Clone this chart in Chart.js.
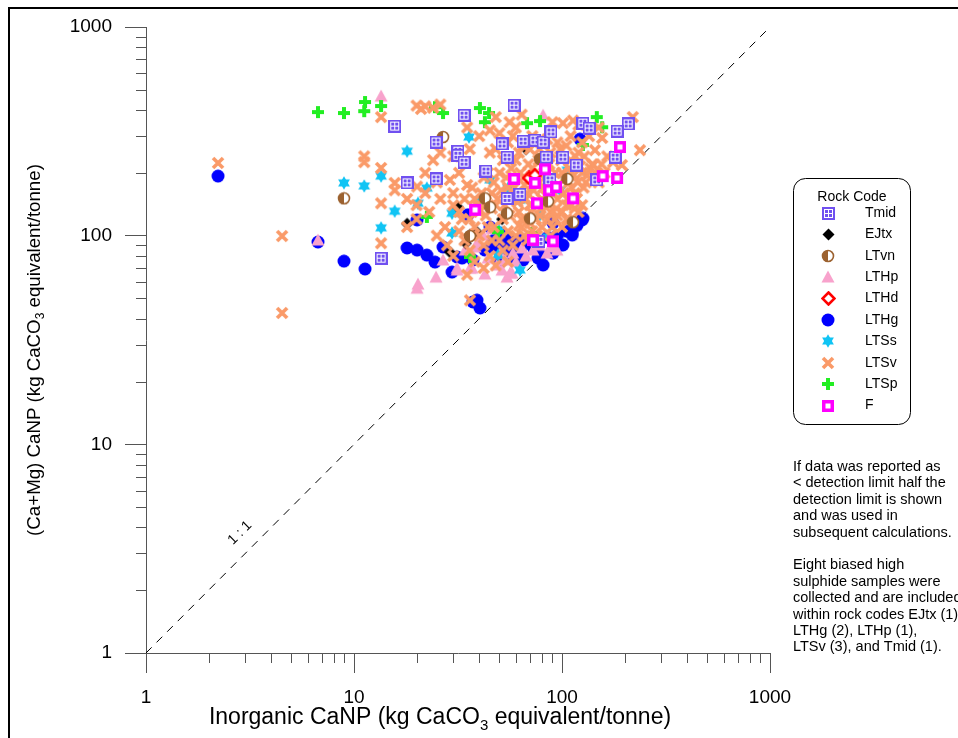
<!DOCTYPE html>
<html>
<head>
<meta charset="utf-8">
<script src="https://cdn.jsdelivr.net/npm/chart.js@4.4.1/dist/chart.umd.min.js"></script>
<style>
  body { margin: 0; background: #fff; }
  canvas { display: block; }
</style>
</head>
<body>
<canvas id="chart" width="958" height="738"></canvas>
<script>
// axis ticks (log-log, 1 to 1000)
const xTicks = [1, 10, 100, 1000];
const yTicks = [1, 10, 100, 1000];
const oneToOne = [[1, 1], [1000, 1000]];

// [Inorganic CaNP, (Ca+Mg) CaNP] pairs
const tmid = [[15.7,335],[13.5,78],[18,179],[24.8,187],[24.8,281],[31.6,254],[31.6,243],[33.8,225],[33.8,378],[58.8,422],[43.1,204],[51.5,275],[54.4,238],[65,284],[74.1,287],[81.1,281],[88.5,314],[83.8,238],[101,238],[117,218],[126,346],[135,328],[208,343],[180,238],[147,185],[87.5,185],[62.8,158],[54.4,151],[77.5,94],[184,317]];
const ejtx = [[18,114],[67.1,260],[31.6,137],[36.1,101],[39,104],[28.9,83.4],[51.5,120],[34.5,92]];
const ltvn = [[26.8,297],[8.95,151],[78.4,233],[106,187],[42.6,151],[45.1,137],[54.4,128],[70.2,121],[85.7,146],[113,116],[36.1,99.6]];
const lthp = [[13.5,467],[81.1,378],[6.71,95.3],[20.3,58.6],[20.1,56],[24.8,63.3],[26.8,76.4],[31.3,69.9],[36.1,69.9],[42.6,65.5],[53.2,76.4],[58.1,82.5],[64.2,87.3],[72.5,85.3],[89.5,88.2],[94.6,85.3],[48.7,72.3],[57.5,66.2],[41.7,100.6],[46.1,108],[34.2,85.3],[38.2,88.2],[50.3,82.5],[54.4,63.3],[39.5,93.2],[51.5,68.4],[56.2,66.2],[84.7,82.5],[36.9,69.9],[31.3,68.4],
  [44,78],[60,75],[67,80],[78,90]];
const lthd = [[69.4,189],[74.1,195]];
const lthg = [[2.22,193],[6.71,93.2],[8.95,75.5],[11.3,69.2],[20.1,119],[18,87.3],[20.1,85.3],[22.4,80.7],[24.5,74.7],[26.8,88.2],[29.6,66.9],[35.3,126],[37.3,48.1],[40.3,45],[45.1,110],[50.3,103],[56.2,97.3],[60.8,90.2],[67.9,95.3],[72.5,88.2],[81.1,72.3],[90.5,82.5],[101,90.2],[112,103],[125,119],[122,290],[90.5,115],[54.4,80.7],[58.1,79],[31.3,79],[37.3,76.4],[42.6,85.3],[50.3,74.7],[65,76.4],[76.7,78.1],[39,49.1],[97.8,90.2],[78.4,80.7],[33.1,78.1],[62.8,95.3],[126,121],[112,100.6],
  [47,95],[52,92],[57,88],[63,85],[70,92],[85,98],[95,100],[105,105],[118,112],[48,88]];
const ltss = [[18,254],[35.7,297],[8.95,179],[11.2,173],[13.5,193],[15.7,131],[13.5,109],[20.3,143],[22.4,169],[29.6,128],[29.6,103],[49.8,106],[49.2,80.7],[62.8,68.4],[45.1,185],[55,169],[72.5,185],[85.7,98.4],[106,206],[62.8,148],[78.4,126],[40.3,148],[97.8,165]];
const ltsv = [[2.22,223],[4.51,99.6],[4.51,42.6],[11.2,225],[11.2,240],[13.5,370],[13.5,211],[13.5,143],[13.5,92],[15.7,179],[15.7,165],[18,150],[20.1,172],[22,200],[25,180],[27.4,110],[28.9,185],[30,160],[32,200],[36.1,49],
  [20,420],[21,405],[22,417],[24,410],[26,425],[35,330],[40,300],[45,320],[50,310],[60,330],[72,300],[90,350],[101,346],[113,356],[120,340],[135,300],[150,330],[219,370],[156,294],
  [30,140],[33,120],[35,175],[38,150],[40,130],[42,190],[44,110],[46,160],[48,140],[50,200],[52,120],[55,170],[58,150],[60,230],[62,130],[65,190],[68,160],[70,140],[72,210],[75,120],[78,180],[80,150],[83,240],[85,200],[88,130],[90,170],[95,150],[98,260],[100,200],[105,140],[108,180],[110,230],[115,160],[120,250],[125,200],[130,180],[140,220],[144,257],[141,218],[176,225],[194,218],[237,257],[160,200],[150,180],
  [25,100],[28,90],[30,80],[32,105],[34,95],[36,85],[38,75],[40,100],[42,90],[45,80],[47,110],[50,95],[52,85],[55,105],[58,90],[60,100],[64,110],[68,95],[72,105],[76,100],[80,110],[85,120],[90,110],[95,125],[100,130],[110,140],[118,150],[42,70],[48,72],[55,75],[35,65],
  [24,230],[26,250],[30,240],[22,160],[20,140],[20,120],[23,130],[18,110],[26,150],[36,260],[45,250],[55,280],[65,270],[75,280],[85,290],[110,300],[56,350],[64,380],[48,370],
  [32,130],[34,150],[36,120],[37,170],[39,140],[41,160],[43,125],[44,200],[46,135],[47,180],[49,150],[51,165],[53,140],[54,190],[56,125],[57,210],[59,170],[61,145],[63,200],[64,120],[66,175],[67,150],[69,220],[71,130],[73,165],[74,190],[76,145],[77,230],[79,135],[81,170],[82,200],[84,155],[86,140],[87,220],[89,185],[91,160],[93,200],[94,135],[96,175],[99,230],
  [102,160],[104,190],[106,150],[108,210],[111,170],[114,195],[116,240],[119,180],[122,215],[127,170],[132,195],[137,210],[128,240],[145,200],[155,220],[165,240],[100,110],[93,120],[105,120],[115,135],[125,140],[120,130],[70,115],[62,112],[78,125],[88,100],[66,100],[46,95],[38,110],[43,145],
  [52,230],[48,260],[62,250],[78,260],[95,280],[105,270],[125,280],[58,300],[70,260],[88,250]];
const ltsp = [[6.71,391],[8.95,387],[11.3,437],[11.2,395],[13.5,418],[24.5,413],[26.8,387],[40.3,409],[44.6,387],[42.6,350],[67.9,346],[78.4,354],[147,370],[156,331],[22.4,123],[36.1,79],[126,272],[49.2,104],[71.7,103]];
const fCode = [[38.2,133],[58.8,187],[74.1,179],[82.8,208],[86.6,165],[93.6,171],[75.8,143],[113,151],[157,193],[190,266],[184,189],[72.5,95.3],[90.5,94]];

const notes = [
  "If data was reported as",
  "< detection limit half the",
  "detection limit is shown",
  "and was used in",
  "subsequent calculations.",
  "",
  "Eight biased high",
  "sulphide samples were",
  "collected and are included",
  "within rock codes EJtx (1)",
  "LTHg (2), LTHp (1),",
  "LTSv (3), and Tmid (1)."
];

const FONT = '"Liberation Sans", Arial, sans-serif';
const AXIS = "#555";

// marker images
function mark(size, draw) {
    const c = document.createElement("canvas");
    c.width = c.height = size;
    draw(c.getContext("2d"), size);
    return c;
}

const purple = "#7050F0";
const tmidMark = mark(13, (g) => {
    g.fillStyle = purple; g.fillRect(0, 0, 13, 13);
    g.fillStyle = "#fff"; g.fillRect(2, 2, 9, 9);
    g.fillStyle = purple;
    [[3,3],[7,3],[3,7],[7,7]].forEach(([a, b]) => g.fillRect(a, b, 3, 3));
});
const ejtxMark = mark(13, (g) => {
    g.fillStyle = "#000";
    g.beginPath(); g.moveTo(6.5, 0.5); g.lineTo(12.5, 6.5); g.lineTo(6.5, 12.5); g.lineTo(0.5, 6.5); g.closePath(); g.fill();
});
const ltvnMark = mark(14, (g) => {
    const brown = "#9C6230";
    g.fillStyle = "#fff"; g.beginPath(); g.arc(7, 7, 5.5, 0, Math.PI * 2); g.fill();
    g.fillStyle = brown; g.beginPath(); g.arc(7, 7, 5.5, Math.PI / 2, Math.PI * 1.5); g.closePath(); g.fill();
    g.strokeStyle = brown; g.lineWidth = 1.6; g.beginPath(); g.arc(7, 7, 5.5, 0, Math.PI * 2); g.stroke();
});
const lthpMark = mark(14, (g) => {
    g.fillStyle = "#F8A2CC";
    g.beginPath(); g.moveTo(7, 0.5); g.lineTo(13.5, 12.5); g.lineTo(0.5, 12.5); g.closePath(); g.fill();
});
const lthdMark = mark(15, (g) => {
    g.fillStyle = "#fff"; g.strokeStyle = "#FF0000"; g.lineWidth = 2.6;
    g.beginPath(); g.moveTo(7.5, 1.5); g.lineTo(13.5, 7.5); g.lineTo(7.5, 13.5); g.lineTo(1.5, 7.5); g.closePath(); g.fill(); g.stroke();
});
const lthgMark = mark(14, (g) => {
    g.fillStyle = "#0000FF"; g.beginPath(); g.arc(7, 7, 6.5, 0, Math.PI * 2); g.fill();
});
const ltssMark = mark(14, (g) => {
    g.fillStyle = "#10C4F4";
    [-90, 90].forEach((start) => {
        g.beginPath();
        for (let k = 0; k < 3; k++) {
            const a = (start + k * 120) * Math.PI / 180;
            g.lineTo(7 + 6.8 * Math.cos(a), 7 + 6.8 * Math.sin(a));
        }
        g.closePath(); g.fill();
    });
});
const ltsvMark = mark(14, (g) => {
    g.strokeStyle = "#FA9A68"; g.lineWidth = 3.6;
    g.beginPath(); g.moveTo(2, 2); g.lineTo(12, 12); g.moveTo(12, 2); g.lineTo(2, 12); g.stroke();
});
const ltspMark = mark(14, (g) => {
    g.fillStyle = "#22EE22";
    g.fillRect(5, 1, 4, 12); g.fillRect(1, 5, 12, 4);
});
const fMark = mark(14, (g) => {
    g.fillStyle = "#FF00FF"; g.fillRect(1, 1, 12, 12);
    g.fillStyle = "#fff"; g.fillRect(4.5, 4.5, 5, 5);
});

// legend order; "order" = drawing depth (lowest on top)
const series = [
    { label: "Tmid", data: tmid, style: tmidMark, order: 1 },
    { label: "EJtx", data: ejtx, style: ejtxMark, order: 5 },
    { label: "LTvn", data: ltvn, style: ltvnMark, order: 3 },
    { label: "LTHp", data: lthp, style: lthpMark, order: 8 },
    { label: "LTHd", data: lthd, style: lthdMark, order: 2 },
    { label: "LTHg", data: lthg, style: lthgMark, order: 9 },
    { label: "LTSs", data: ltss, style: ltssMark, order: 7 },
    { label: "LTSv", data: ltsv, style: ltsvMark, order: 4 },
    { label: "LTSp", data: ltsp, style: ltspMark, order: 6 },
    { label: "F", data: fCode, style: fMark, order: 0 }
];

const datasets = series.map((s) => ({
    label: s.label,
    data: s.data.map(([x, y]) => ({ x, y })),
    pointStyle: s.style,
    order: s.order
}));
datasets.push({
    label: "1:1",
    data: oneToOne.map(([x, y]) => ({ x, y })),
    showLine: true,
    borderColor: "#000",
    borderWidth: 1,
    borderDash: [8, 7],
    pointRadius: 0,
    order: 20
});

function drawTitle(ctx, head, x, y, size, rot) {
    const tail = " equivalent/tonne)";
    ctx.save();
    ctx.translate(x, y);
    ctx.rotate(rot);
    ctx.fillStyle = "#000";
    ctx.textBaseline = "middle";
    ctx.textAlign = "left";
    ctx.font = size + "px " + FONT;
    const wa = ctx.measureText(head).width;
    const wc = ctx.measureText(tail).width;
    ctx.font = Math.round(size * 0.65) + "px " + FONT;
    const wb = ctx.measureText("3").width;
    let s = -(wa + wb + wc) / 2;
    ctx.font = size + "px " + FONT;
    ctx.fillText(head, s, 0);
    ctx.font = Math.round(size * 0.65) + "px " + FONT;
    ctx.fillText("3", s + wa, size * 0.32);
    ctx.font = size + "px " + FONT;
    ctx.fillText(tail, s + wa + wb, 0);
    ctx.restore();
}

const decor = {
    id: "decor",
    afterDraw(chart) {
        const ctx = chart.ctx;
        const xs = chart.scales.x, ys = chart.scales.y;
        const area = chart.chartArea;
        ctx.save();

        // minor ticks
        ctx.strokeStyle = AXIS;
        ctx.lineWidth = 1;
        ctx.beginPath();
        [1, 10, 100].forEach((d) => {
            for (let k = 2; k <= 9; k++) {
                const px = Math.round(xs.getPixelForValue(k * d)) + 0.5;
                ctx.moveTo(px, area.bottom); ctx.lineTo(px, area.bottom + 10);
                const py = Math.round(ys.getPixelForValue(k * d)) + 0.5;
                ctx.moveTo(area.left - 10, py); ctx.lineTo(area.left, py);
            }
        });
        ctx.stroke();

        // outer frame (top and left only)
        ctx.strokeStyle = "#000";
        ctx.lineWidth = 2;
        ctx.beginPath();
        ctx.moveTo(9, 738); ctx.lineTo(9, 8); ctx.lineTo(958, 8);
        ctx.stroke();

        // axis titles
        drawTitle(ctx, "Inorganic CaNP (kg CaCO", 440, 718, 23, 0);
        drawTitle(ctx, "(Ca+Mg) CaNP (kg CaCO", 35, 350, 18.7, -Math.PI / 2);

        // 1:1 label
        ctx.save();
        ctx.translate(240, 533);
        ctx.rotate(-Math.PI / 4);
        ctx.font = "14px " + FONT;
        ctx.fillStyle = "#000";
        ctx.textAlign = "center";
        ctx.textBaseline = "middle";
        ctx.fillText("1 : 1", 0, 0);
        ctx.restore();

        // legend box
        const bx = 793.5, by = 178.5, bw = 117, bh = 246, r = 12;
        ctx.strokeStyle = "#000";
        ctx.lineWidth = 1;
        ctx.beginPath();
        ctx.roundRect(bx, by, bw, bh, r);
        ctx.stroke();
        ctx.fillStyle = "#000";
        ctx.font = "14px " + FONT;
        ctx.textAlign = "center";
        ctx.textBaseline = "middle";
        ctx.fillText("Rock Code", 852, 197);
        ctx.textAlign = "left";
        series.forEach((s, i) => {
            const yy = 213 + i * 21.4;
            const img = s.style;
            ctx.drawImage(img, Math.round(828 - img.width / 2), Math.round(yy - img.height / 2));
            ctx.fillText(s.label, 865, yy);
        });

        // notes
        ctx.font = "14.5px " + FONT;
        notes.forEach((line, i) => {
            ctx.fillText(line, 793, 467 + i * 16.4);
        });

        ctx.restore();
    }
};

const tickFont = { family: FONT, size: 19 };

new Chart(document.getElementById("chart"), {
    type: "scatter",
    data: { datasets },
    options: {
        responsive: false,
        animation: false,
        layout: { padding: { top: 27, right: 188, left: 0, bottom: 0 } },
        plugins: {
            legend: { display: false },
            tooltip: { enabled: false }
        },
        scales: {
            x: {
                type: "logarithmic",
                position: "bottom",
                min: 1,
                max: 1000,
                afterBuildTicks: (s) => { s.ticks = xTicks.map((v) => ({ value: v })); },
                afterFit: (s) => { s.height = 85; },
                grid: { drawOnChartArea: false, tickLength: 20, tickColor: AXIS },
                border: { color: AXIS },
                ticks: {
                    autoSkip: false,
                    maxRotation: 0,
                    padding: 13,
                    color: "#000",
                    font: tickFont,
                    callback: (v) => String(v)
                }
            },
            y: {
                type: "logarithmic",
                min: 1,
                max: 1000,
                afterBuildTicks: (s) => { s.ticks = yTicks.map((v) => ({ value: v })); },
                afterFit: (s) => { s.width = 146; },
                grid: { drawOnChartArea: false, tickLength: 21, tickColor: AXIS },
                border: { color: AXIS },
                ticks: {
                    autoSkip: false,
                    padding: 13,
                    color: "#000",
                    font: tickFont,
                    callback: (v) => String(v)
                }
            }
        }
    },
    plugins: [decor]
});
</script>
</body>
</html>
